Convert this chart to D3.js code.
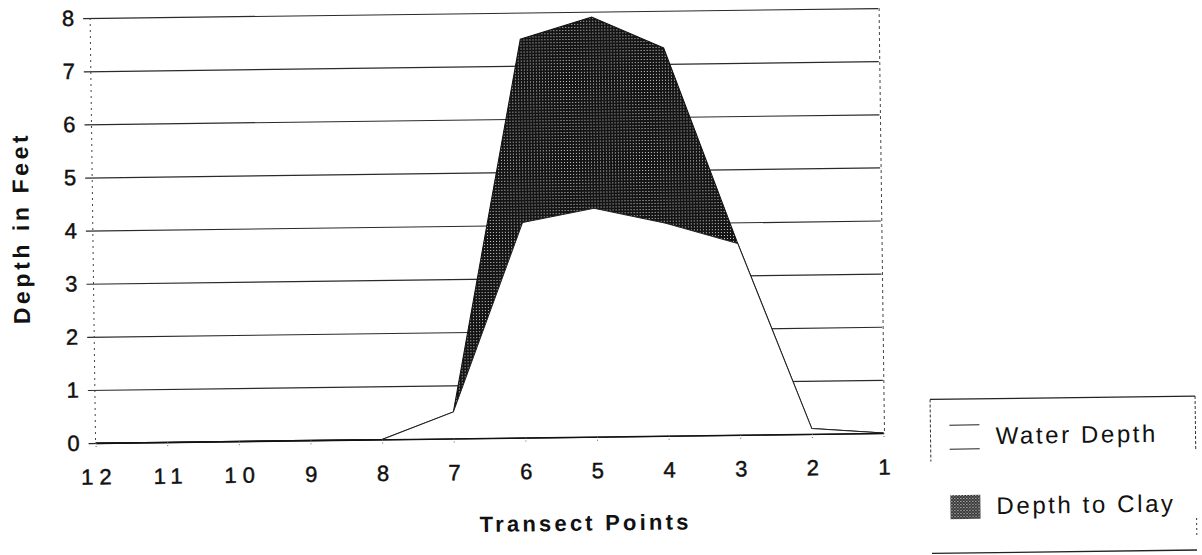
<!DOCTYPE html>
<html>
<head>
<meta charset="utf-8">
<script src="https://cdn.jsdelivr.net/npm/d3@7/dist/d3.min.js"></script>
<style>
  html, body { margin: 0; padding: 0; background: #fff; }
  svg { display: block; }
  text { font-family: "Liberation Sans", Arial, Helvetica, sans-serif; fill: #111; }
  .ink { stroke: #111; stroke-width: 0.45; }
</style>
</head>
<body>
<svg id="chart" width="1202" height="555"></svg>
<script>
// Transect points, read right-to-left along the section
const categories = ["12", "11", "10", "9", "8", "7", "6", "5", "4", "3", "2", "1"];
// Depth of water at each point (feet)
const waterDepth = [0, 0, 0, 0, 0, 0.5, 4.05, 4.3, 4.0, 3.6, 0.1, 0];
// Depth from surface to clay at each point (feet)
const depthToClay = [0, 0, 0, 0, 0, 0.5, 7.5, 7.9, 7.3, 3.6, 0.1, 0];
const yTicks = [0, 1, 2, 3, 4, 5, 6, 7, 8];
const seriesNames = ["Water Depth", "Depth to Clay"];

const svg = d3.select("#chart");

// the printed sheet sits a little askew
const root = svg.append("g").attr("transform", "rotate(-0.73, 490, 240)");

const plotLeft = 93, plotRight = 881, plotTop = 13, plotBottom = 438;

const x = d3.scalePoint().domain(categories).range([plotLeft, plotRight]);
const y = d3.scaleLinear().domain([0, 8]).range([plotBottom, plotTop]);

// halftone fills
const defs = svg.append("defs");
const pat = defs.append("pattern")
  .attr("id", "halftone")
  .attr("patternUnits", "userSpaceOnUse")
  .attr("width", 3).attr("height", 3);
pat.append("rect").attr("width", 3).attr("height", 3).attr("fill", "#141414");
pat.append("rect").attr("x", 1).attr("y", 1).attr("width", 1).attr("height", 1).attr("fill", "#cfcfcf");

const patL = defs.append("pattern")
  .attr("id", "halftoneLight")
  .attr("patternUnits", "userSpaceOnUse")
  .attr("width", 3).attr("height", 3);
patL.append("rect").attr("width", 3).attr("height", 3).attr("fill", "#2a2a2a");
patL.append("rect").attr("x", 0).attr("y", 0).attr("width", 1).attr("height", 1).attr("fill", "#eee");
patL.append("rect").attr("x", 1.5).attr("y", 1.5).attr("width", 1).attr("height", 1).attr("fill", "#eee");

// horizontal gridlines with small outward ticks
const yAxis = d3.axisLeft(y)
  .tickValues(yTicks)
  .tickFormat(d3.format("d"))
  .tickSize(-(plotRight - plotLeft))
  .tickSizeOuter(0)
  .tickPadding(16);

const gy = root.append("g")
  .attr("transform", `translate(${plotLeft},0)`)
  .call(yAxis);
gy.select(".domain").remove();
gy.selectAll(".tick line")
  .attr("x1", -7)
  .attr("stroke", "#2a2a2a")
  .attr("stroke-width", 1.2);
gy.selectAll(".tick text")
  .attr("class", "ink")
  .attr("font-size", 22)
  .style("fill", "#111");

// faint frame sides
root.append("line")
  .attr("x1", plotLeft).attr("x2", plotLeft)
  .attr("y1", y(8)).attr("y2", y(0))
  .attr("stroke", "#444").attr("stroke-width", 1)
  .attr("stroke-dasharray", "2,4");
root.append("line")
  .attr("x1", plotRight + 1).attr("x2", plotRight + 1)
  .attr("y1", y(8)).attr("y2", y(0))
  .attr("stroke", "#444").attr("stroke-width", 1)
  .attr("stroke-dasharray", "3,3");

// areas
const area = vals => d3.area()
  .x((d, i) => x(categories[i]))
  .y0(y(0))
  .y1(d => y(d))(vals);
const line = vals => d3.line()
  .x((d, i) => x(categories[i]))
  .y(d => y(d))(vals);

root.append("path")
  .attr("d", area(depthToClay))
  .attr("fill", "url(#halftone)")
  .attr("stroke", "#111")
  .attr("stroke-width", 1);

root.append("path")
  .attr("d", area(waterDepth))
  .attr("fill", "#fff");
root.append("path")
  .attr("d", line(waterDepth))
  .attr("fill", "none")
  .attr("stroke", "#222")
  .attr("stroke-width", 1);

// category axis
const xAxis = d3.axisBottom(x)
  .tickSize(4)
  .tickSizeOuter(0)
  .tickPadding(22);
const gx = root.append("g")
  .attr("transform", `translate(0,${plotBottom})`)
  .call(xAxis);
gx.select(".domain")
  .attr("stroke", "#111")
  .attr("stroke-width", 1.4);
gx.selectAll(".tick line")
  .attr("stroke", "#666")
  .attr("stroke-dasharray", "1,2");
gx.selectAll(".tick text")
  .attr("class", "ink")
  .attr("font-size", 22)
  .attr("letter-spacing", d => d.length > 1 ? 6 : 0)
  .attr("dx", d => d.length > 1 ? 3 : 0)
  .style("fill", "#111");

// axis titles
root.append("text")
  .attr("x", 582).attr("y", 526)
  .attr("text-anchor", "middle")
  .attr("dominant-baseline", "middle")
  .attr("font-size", 22)
  .attr("font-weight", "bold")
  .attr("letter-spacing", 3.2)
  .text("Transect Points");

root.append("text")
  .attr("transform", "translate(23,222) rotate(-90)")
  .attr("text-anchor", "middle")
  .attr("dominant-baseline", "middle")
  .attr("font-size", 23)
  .attr("font-weight", "bold")
  .attr("letter-spacing", 3.6)
  .text("Depth in Feet");

// legend
const lg = root.append("g");
const bx0 = 928, by0 = 405, bx1 = 1193, by1 = 559;
lg.append("line").attr("x1", bx0).attr("x2", bx1).attr("y1", by0).attr("y2", by0)
  .attr("stroke", "#222").attr("stroke-width", 1.3);
lg.append("line").attr("x1", bx0).attr("x2", bx1).attr("y1", by1).attr("y2", by1)
  .attr("stroke", "#222").attr("stroke-width", 1.3);
lg.append("line").attr("x1", bx0).attr("x2", bx0).attr("y1", by0).attr("y2", by0 + 62)
  .attr("stroke", "#333").attr("stroke-width", 1).attr("stroke-dasharray", "3,2");
lg.append("line").attr("x1", bx1).attr("x2", bx1).attr("y1", by0).attr("y2", by0 + 55)
  .attr("stroke", "#333").attr("stroke-width", 1).attr("stroke-dasharray", "3,2");
lg.append("line").attr("x1", bx1).attr("x2", bx1).attr("y1", by0 + 122).attr("y2", by0 + 140)
  .attr("stroke", "#333").attr("stroke-width", 1).attr("stroke-dasharray", "2,3");

const items = [
  { name: seriesNames[0], fill: "#fff", y: 431 },
  { name: seriesNames[1], fill: "url(#halftoneLight)", y: 501 }
];
items.forEach(it => {
  lg.append("rect")
    .attr("x", 947).attr("y", it.y)
    .attr("width", 30).attr("height", 24)
    .attr("fill", it.fill)
    .attr("stroke", it.fill === "#fff" ? "#222" : "none")
    .attr("stroke-dasharray", it.fill === "#fff" ? "30,24" : null);
  lg.append("text")
    .attr("x", 993).attr("y", it.y + 13)
    .attr("dominant-baseline", "middle")
    .attr("font-size", 24)
    .attr("letter-spacing", 2.6)
    .text(it.name);
});
</script>
</body>
</html>
